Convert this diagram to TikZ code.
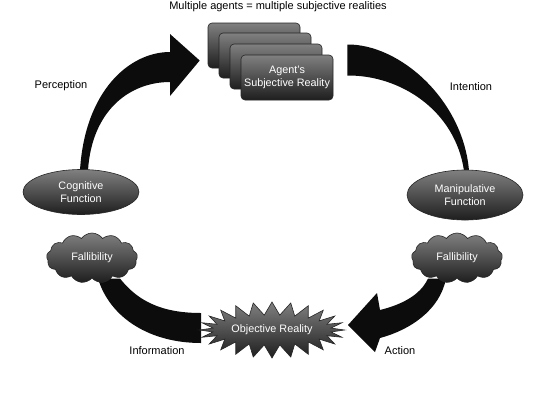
\documentclass[tikz,border=0pt]{standalone}
\usepackage{fontspec}
\setmainfont{Liberation Sans}
\usetikzlibrary{shapes.symbols,shapes.geometric,calc}
\pgfdeclarelayer{bg}
\pgfsetlayers{bg,main}
\definecolor{nodetop}{RGB}{128,128,128}
\definecolor{nodebot}{RGB}{30,30,30}
\definecolor{bandfill}{RGB}{12,12,12}
\tikzset{
  darknode/.style={draw=black!85, line width=0.6pt, top color=nodetop, bottom color=nodebot,
    text=white, align=center, font=\fontsize{10.8}{13}\selectfont, inner sep=2pt},
  agentbox/.style={darknode, rounded corners=4pt, minimum width=92pt, minimum height=45pt},
  ellnode/.style={darknode, ellipse, minimum width=116pt, minimum height=45pt, inner sep=0pt},
  cloudnode/.style={darknode, cloud, cloud puffs=13, cloud puff arc=110, aspect=2,
    minimum width=91pt, minimum height=50pt, inner sep=0pt},
  burstnode/.style={darknode, starburst, starburst points=24, starburst point height=13pt,
    random starburst=0, minimum width=145pt, minimum height=56pt, inner sep=0pt},
  band/.style={fill=bandfill},
  lbl/.style={font=\fontsize{11}{13}\selectfont, text=black}
}
\begin{document}
\begin{tikzpicture}[x=1pt,y=-1pt]
\useasboundingbox (0,0) rectangle (545,410);

\node[lbl] (title) at (278,7) {Multiple agents = multiple subjective realities};

% agent boxes (back to front)
\node[agentbox] (box4) at (254,45.5) {};
\node[agentbox] (box3) at (265,55.5) {};
\node[agentbox] (box2) at (276,66.5) {};
\node[agentbox] (box1) at (287,77.5) {Agent's\\Subjective Reality};

% main nodes
\node[ellnode] (cog) at (81,192) {Cognitive\\Function};
\node[ellnode, minimum height=50pt] (man) at (465,195) {Manipulative\\Function};
\node[burstnode] (obj) at (272,330) {Objective Reality};
\node[cloudnode] (fal1) at (92,258) {Fallibility};
\node[cloudnode] (fal2) at (457,258) {Fallibility};

% bands / arrows behind the nodes
\begin{pgfonlayer}{bg}
\fill[white] (0,0) rectangle (545,410);
% Perception arrow
\fill[band] ($(cog.north)+(-1,1)$) .. controls (85,90) and (130,52) .. (170,52)
  -- (170,34) -- ($(box4.west)+(-8,15)$) -- (170,96) -- (170,82)
  .. controls (130,82) and (92,110) .. ($(cog.north)+(7,1)$) -- cycle;
% Intention band
\fill[band] ($(box1.east)+(14,-33)$) .. controls (400,44) and (463,100) .. ($(man.north)+(4,1)$)
  -- ($(man.north)+(-1,1)$) .. controls (455,110) and (400,75) .. ($(box1.east)+(14,-2)$) -- cycle;
% Information band
\fill[band] ($(fal1.south)+(28,0)$) .. controls (137,300) and (160,313) .. (201,313)
  -- (201,343) .. controls (150,343) and (110,318) .. ($(fal1.south)+(6,0)$) -- cycle;
% Action arrow
\fill[band] ($(fal2.south)+(-29,0)$) .. controls (420,296) and (400,305) .. (380,310)
  -- (377,293) -- (348,325) -- (375,352) -- (380,338)
  .. controls (410,330) and (440,310) .. ($(fal2.south)+(-11,0)$) -- cycle;
\end{pgfonlayer}

% labels
\node[lbl] (perc) at (61,86) {Perception};
\node[lbl] (inte) at (471,87) {Intention};
\node[lbl] (info) at (157,351) {Information};
\node[lbl] (act) at (400,351) {Action};
\end{tikzpicture}
\end{document}
